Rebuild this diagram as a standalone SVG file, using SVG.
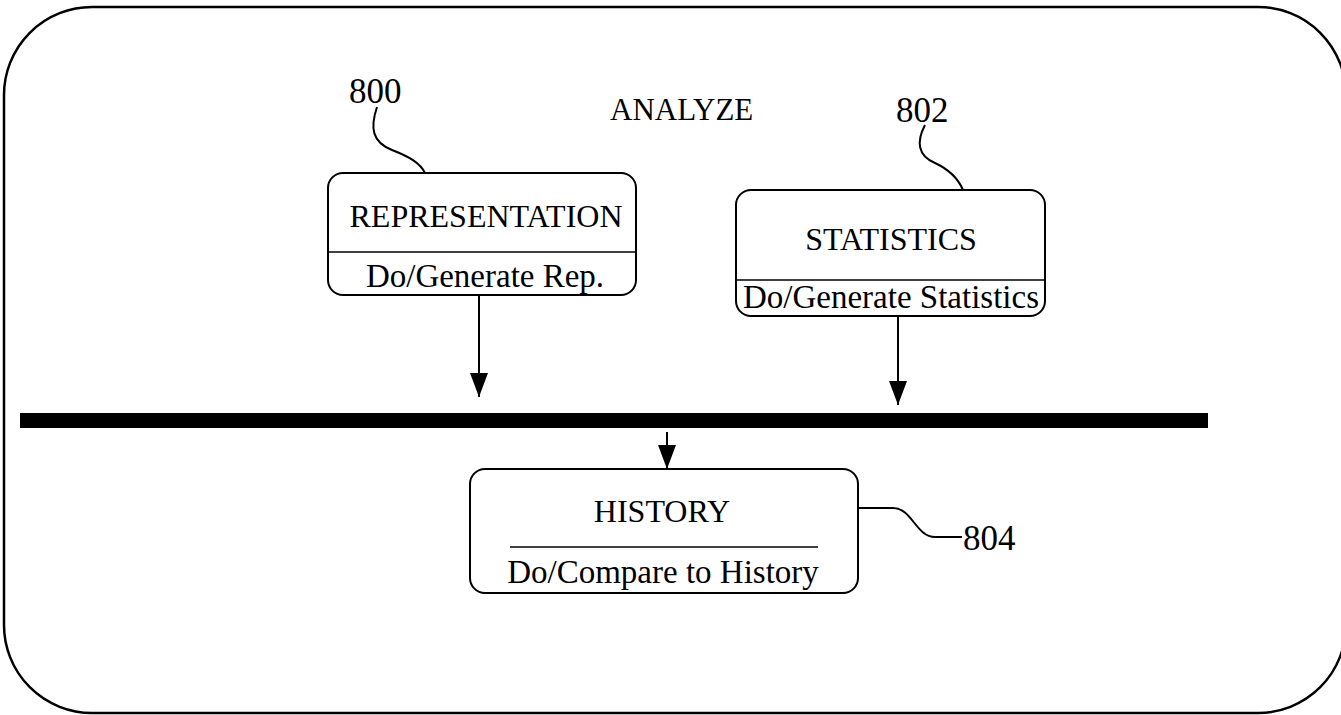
<svg xmlns="http://www.w3.org/2000/svg" width="1341" height="715" viewBox="0 0 1341 715">
  <style>
    .frame { fill: none; stroke: #000; stroke-width: 2.5; }
    .box { fill: #fff; stroke: #000; stroke-width: 2; }
    .rule { stroke: #000; stroke-width: 1.6; }
    .lead { fill: none; stroke: #000; stroke-width: 2; }
    .edge { fill: none; stroke: #000; stroke-width: 2; }
    .t { font-family: "Liberation Serif", "Times New Roman", serif; fill: #000; }
    .name { font-size: 32px; text-anchor: middle; }
    .act { font-size: 33px; text-anchor: middle; }
    .ref { font-size: 35px; }
  </style>
  <defs>
    <!-- filled triangular head, tip at the end of the line -->
    <marker id="head" markerWidth="24" markerHeight="18" refX="24" refY="9" orient="auto" markerUnits="userSpaceOnUse" viewBox="0 0 24 18">
      <path d="M0,0 L24,9 L0,18 Z" fill="#000"/>
    </marker>
  </defs>

  <!-- enclosing superstate -->
  <g id="analyze">
    <rect class="frame" x="4" y="7" width="1342" height="706" rx="88" ry="88"/>
    <text class="t" x="610" y="120" font-size="31">ANALYZE</text>
  </g>

  <!-- join bar -->
  <g id="join">
    <rect x="20" y="413" width="1188" height="15" fill="#000"/>
  </g>

  <g id="representation">
    <rect class="box" x="328" y="173" width="308" height="122" rx="15" ry="15"/>
    <line class="rule" x1="328" y1="252" x2="636" y2="252"/>
    <text class="t name" x="486" y="227">REPRESENTATION</text>
    <text class="t act" x="485" y="287">Do/Generate Rep.</text>
    <text class="t ref" x="349" y="103">800</text>
    <path class="lead" d="M377,107 C370,128 372,142 392,150 C410,157 420,163 425,173"/>
  </g>

  <g id="statistics">
    <rect class="box" x="736" y="190" width="309" height="126" rx="15" ry="15"/>
    <line class="rule" x1="736" y1="280" x2="1045" y2="280"/>
    <text class="t name" x="891" y="250">STATISTICS</text>
    <text class="t act" x="891" y="308">Do/Generate Statistics</text>
    <text class="t ref" x="896" y="122">802</text>
    <path class="lead" d="M925,125 C916,142 918,156 935,163 C950,170 958,178 963,190"/>
  </g>

  <g id="history">
    <rect class="box" x="470" y="469" width="388" height="124" rx="15" ry="15"/>
    <line class="rule" x1="510" y1="547" x2="818" y2="547"/>
    <text class="t name" x="662" y="522">HISTORY</text>
    <text class="t act" x="663" y="583">Do/Compare to History</text>
    <text class="t ref" x="963" y="550">804</text>
    <path class="lead" d="M858,508 L893,508 C912,508 916,537 935,537 L962,537"/>
  </g>

  <!-- transitions -->
  <g id="connectors">
    <line class="edge" x1="479" y1="296" x2="479" y2="397" marker-end="url(#head)"/>
    <line class="edge" x1="898" y1="317" x2="898" y2="405" marker-end="url(#head)"/>
    <line class="edge" x1="667" y1="432" x2="667" y2="469" marker-end="url(#head)"/>
  </g>
</svg>
